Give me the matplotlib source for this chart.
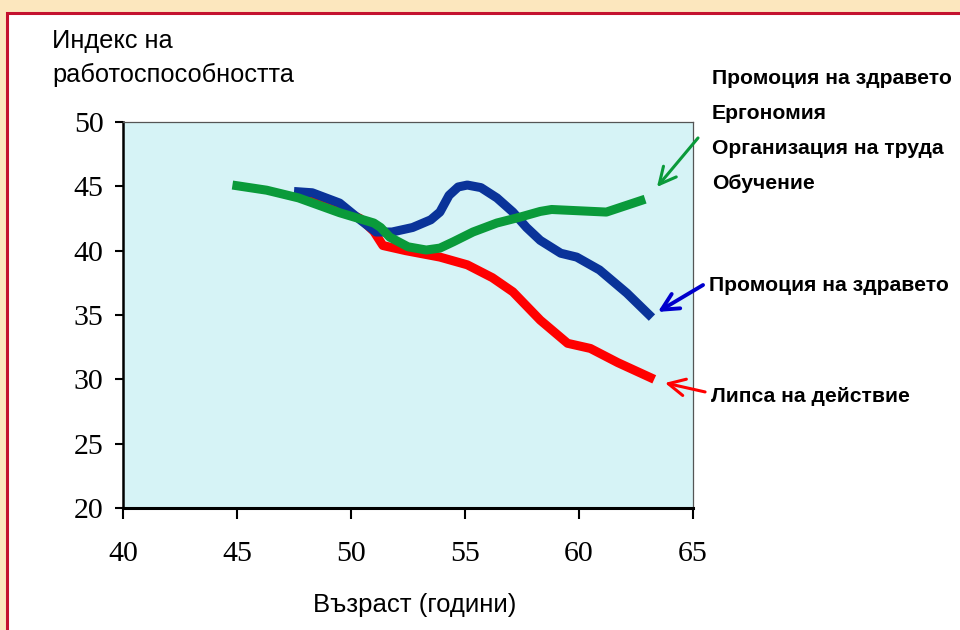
import matplotlib
matplotlib.use("Agg")
import matplotlib.pyplot as plt
from matplotlib.patches import Rectangle

# ---- data ----
age_none = [47.7, 49.2, 50.4, 51.0, 51.4, 52.4, 53.9, 55.1, 56.2, 57.1, 58.3, 59.5, 60.5, 61.7, 63.3]
wai_none = [44.2, 43.5, 42.5, 41.5, 40.4, 40.0, 39.5, 38.9, 37.9, 36.8, 34.6, 32.8, 32.4, 31.3, 30.0]

age_health = [47.5, 48.3, 49.5, 50.4, 51.1, 51.8, 52.7, 53.5, 53.9, 54.3, 54.7, 55.1, 55.7, 56.4, 57.1, 57.7, 58.3,
              59.2, 59.9, 60.9, 62.1, 63.2]
wai_health = [44.6, 44.5, 43.7, 42.4, 41.45, 41.45, 41.8, 42.4, 43.0, 44.3, 44.95, 45.1, 44.9, 44.1, 43.0, 41.8, 40.8,
              39.8, 39.5, 38.5, 36.7, 34.8]

age_all = [44.8, 46.3, 47.7, 49.5, 51.0, 51.3, 51.7, 52.5, 53.3, 53.9, 54.5, 55.35, 56.4, 57.4, 58.3, 58.8, 61.2, 62.9]
wai_all = [45.1, 44.7, 44.1, 42.95, 42.15, 41.8, 41.05, 40.3, 40.05, 40.2, 40.7, 41.45, 42.15, 42.6, 43.05, 43.2, 43.0, 44.0]

x_ticks = [40, 45, 50, 55, 60, 65]
y_ticks = [20, 25, 30, 35, 40, 45, 50]

label_all = ["Промоция на здравето", "Ергономия", "Организация на труда", "Обучение"]
label_health = "Промоция на здравето"
label_none = "Липса на действие"
y_title = ["Индекс на", "работоспособността"]
x_title = "Възраст (години)"

W, H = 960, 630
fig = plt.figure(figsize=(W / 100, H / 100), dpi=100)
fig.patch.set_facecolor("#FCE7BE")

# white panel with red frame
fig.patches.append(Rectangle((7 / W, -0.05), 1.2, 1 - 13 / H + 0.05,
                             transform=fig.transFigure, facecolor="white",
                             edgecolor="#C4122F", linewidth=2.2, zorder=-10))

def fx(px):
    return px / W

def fy(py):
    return 1 - py / H

ax = fig.add_axes([fx(123), fy(508), (693 - 123) / W, (508 - 122) / H])
ax.set_zorder(1)
ax.set_facecolor("#D6F3F6")
ax.set_xlim(40, 65)
ax.set_ylim(20, 50)
ax.set_xticks(x_ticks)
ax.set_yticks(y_ticks)

lw = 6.5
ax.plot(age_none, wai_none, color="#FF0000", lw=lw, solid_capstyle="butt", solid_joinstyle="round", zorder=3)
ax.plot(age_health, wai_health, color="#0A3399", lw=lw, solid_capstyle="butt", solid_joinstyle="round", zorder=4)
ax.plot(age_all, wai_all, color="#0A9A3A", lw=lw, solid_capstyle="butt", solid_joinstyle="round", zorder=5)

for s in ["top", "right"]:
    ax.spines[s].set_color("#555555")
    ax.spines[s].set_linewidth(0.9)
ax.spines["left"].set_linewidth(1.8)
ax.spines["bottom"].set_linewidth(2.2)
ax.spines["left"].set_color("black")
ax.spines["bottom"].set_color("black")

ax.tick_params(axis="y", direction="out", length=6, width=1.5, pad=8,
               labelsize=21.5, labelfontfamily="Liberation Serif")
ax.tick_params(axis="x", direction="out", length=8, width=1.5, pad=16,
               labelsize=21.5, labelfontfamily="Liberation Serif")

# arrows
def arrow(head, tail, color, lw_a):
    ax.annotate("", xy=head, xytext=tail, xycoords="data", textcoords="data",
                annotation_clip=False,
                arrowprops=dict(arrowstyle="->", color=color, lw=lw_a,
                                mutation_scale=30, shrinkA=0, shrinkB=0))

arrow((63.42, 44.95), (65.22, 48.76), "#0A9A3A", 2.2)
arrow((63.46, 35.24), (65.44, 37.33), "#0000CC", 2.8)
arrow((63.77, 29.72), (65.53, 29.02), "#FF0000", 2.2)

sans = ["Liberation Sans", "DejaVu Sans"]
for i, t in enumerate(label_all):
    fig.text(fx(712), fy(78 + i * 35.3), t, fontsize=15.2, fontweight="bold",
             family=sans, va="center", ha="left")
fig.text(fx(709), fy(286), label_health, fontsize=15.2, fontweight="bold",
         family=sans, va="center", ha="left")
fig.text(fx(711), fy(397), label_none, fontsize=15.2, fontweight="bold",
         family=sans, va="center", ha="left")

fig.text(fx(52), fy(48), y_title[0], fontsize=18.3, family=sans, va="baseline", ha="left")
fig.text(fx(52), fy(82), y_title[1], fontsize=18.3, family=sans, va="baseline", ha="left")
fig.text(fx(415), fy(605), x_title, fontsize=18.5, family=sans, va="center", ha="center")

fig.savefig("out.png", dpi=100, facecolor=fig.get_facecolor())
